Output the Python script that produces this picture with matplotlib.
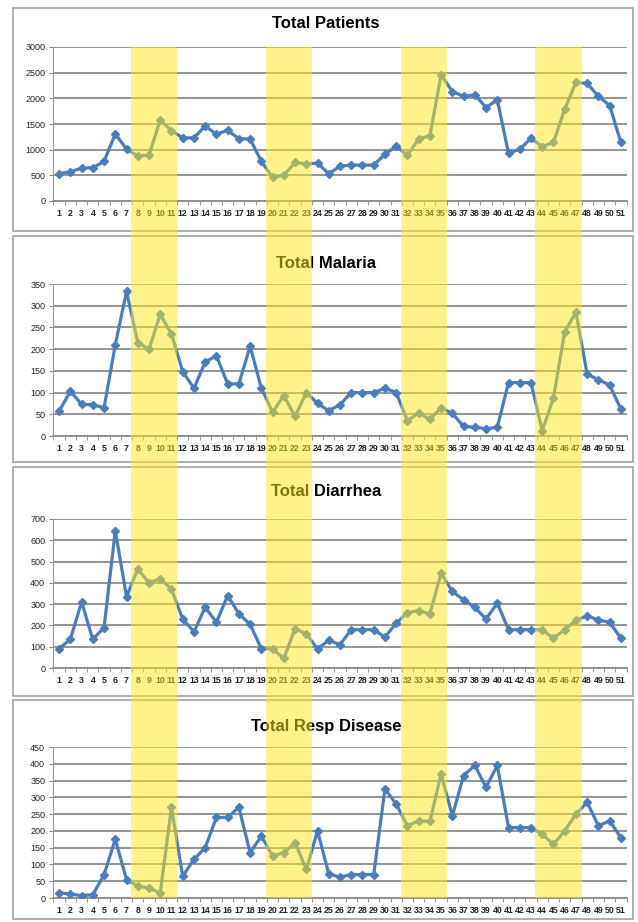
import matplotlib

matplotlib.use("Agg")
import matplotlib.pyplot as plt
import matplotlib.transforms as mtransforms
from matplotlib.patches import Rectangle
import numpy as np

plt.rcParams["font.family"] = ["Liberation Sans", "DejaVu Sans"]

weeks = list(range(1, 52))

total_patients = [530, 570, 640, 650, 770, 1310, 1010, 880, 890, 1580,
                  1370, 1230, 1230, 1460, 1300, 1380, 1210, 1210, 770, 460,
                  500, 750, 720, 740, 530, 680, 700, 700, 700, 910,
                  1070, 890, 1210, 1270, 2460, 2130, 2040, 2070, 1820, 1970,
                  930, 1010, 1220, 1060, 1140, 1790, 2310, 2290, 2040, 1860,
                  1140]
total_malaria = [57, 103, 73, 72, 65, 210, 333, 215, 200, 280,
                 235, 148, 110, 170, 185, 120, 120, 207, 110, 55,
                 93, 45, 100, 75, 58, 72, 100, 100, 100, 110,
                 100, 35, 53, 38, 65, 52, 22, 20, 17, 20,
                 123, 123, 123, 12, 88, 240, 285, 142, 130, 117,
                 62]
total_diarrhea = [90, 135, 310, 135, 190, 645, 335, 465, 400, 420,
                  370, 230, 170, 285, 215, 340, 255, 205, 90, 90,
                  45, 185, 160, 90, 130, 110, 180, 180, 180, 145,
                  210, 260, 270, 255, 445, 360, 320, 285, 230, 305,
                  180, 180, 180, 180, 140, 180, 225, 245, 225, 215,
                  140]
total_resp = [15, 12, 7, 10, 70, 175, 55, 35, 30, 15,
              270, 65, 115, 150, 240, 240, 270, 135, 185, 125,
              135, 165, 85, 200, 72, 62, 70, 70, 70, 325,
              280, 215, 230, 228, 370, 245, 365, 395, 330, 395,
              210, 210, 210, 190, 160, 200, 250, 285, 215, 230,
              180]

titles = ["Total Patients", "Total Malaria", "Total Diarrhea", "Total Resp Disease"]
series = [total_patients, total_malaria, total_diarrhea, total_resp]
y_max = [3000, 350, 700, 450]
y_step = [500, 50, 100, 50]

# highlighted weeks (first, last)
highlight_weeks = [(8, 11), (20, 23), (32, 35), (44, 47)]

W, H = 638, 922
fig = plt.figure(figsize=(W / 100, H / 100), dpi=100)

# pixel layout: (plot top, plot bottom, title y, panel top, panel bottom)
layout = [(47, 201, 24, 8, 231),
          (284, 436, 263, 236, 462),
          (519, 668, 492, 467, 696),
          (747, 898, 726, 700, 919)]
ax_left, ax_right = 53.5, 626.5

blue = "#4A7EBB"
axes = []
for i, (top, bot, ty, ptop, pbot) in enumerate(layout):
    # panel frame
    fig.patches.append(Rectangle((13 / W, 1 - pbot / H), (633 - 13) / W, (pbot - ptop) / H,
                                 transform=fig.transFigure, fill=False,
                                 edgecolor="#A8A8A8", linewidth=1.3, zorder=0.5))
    ax = fig.add_axes([ax_left / W, 1 - bot / H, (ax_right - ax_left) / W, (bot - top) / H])
    ax.set_zorder(1)
    ax.patch.set_alpha(0)
    ax.plot(weeks, series[i], color=blue, linewidth=2.3, marker="D",
            markersize=4.5, markerfacecolor=blue, markeredgecolor=blue, zorder=3)
    ax.set_xlim(0.5, 51.5)
    ax.set_ylim(0, y_max[i])
    ax.set_yticks(np.arange(0, y_max[i] + 1, y_step[i]))
    ax.set_xticks(weeks)
    ax.set_xticklabels([str(w) for w in weeks], fontsize=6.3, fontweight="bold")
    ax.set_xticks(np.arange(0.5, 52, 1), minor=True)
    ax.tick_params(axis="x", which="major", length=0, pad=6, colors="#222222")
    ax.tick_params(axis="x", which="minor", length=3, color="#888888", direction="out")
    ax.tick_params(axis="y", length=3, color="#888888", labelsize=6.5, pad=3, colors="#222222")
    ax.tick_params(axis="y", color="#888888")
    ax.yaxis.grid(True, color="#8C8C8C", linewidth=1.3)
    ax.set_axisbelow(True)
    for s in ["top", "right"]:
        ax.spines[s].set_visible(False)
    ax.spines["left"].set_color("#999999")
    ax.spines["bottom"].set_color("#8C8C8C")
    ax.spines["bottom"].set_linewidth(1.3)
    fig.text(326 / W, 1 - ty / H, titles[i], ha="center", va="center",
             fontsize=12, fontweight="bold", color="black")
    axes.append(ax)

# yellow bands over all panels
trans = mtransforms.blended_transform_factory(axes[-1].transData, fig.transFigure)
y0 = 1 - layout[-1][1] / H
y1 = 1 - layout[0][0] / H
for a, b in highlight_weeks:
    fig.patches.append(Rectangle((a - 0.6, y0), (b - a) + 1.1, y1 - y0, transform=trans,
                                 facecolor=(1.0, 0.9, 0.1), alpha=0.5, edgecolor="none", zorder=5))

fig.savefig("out.png", dpi=100)
